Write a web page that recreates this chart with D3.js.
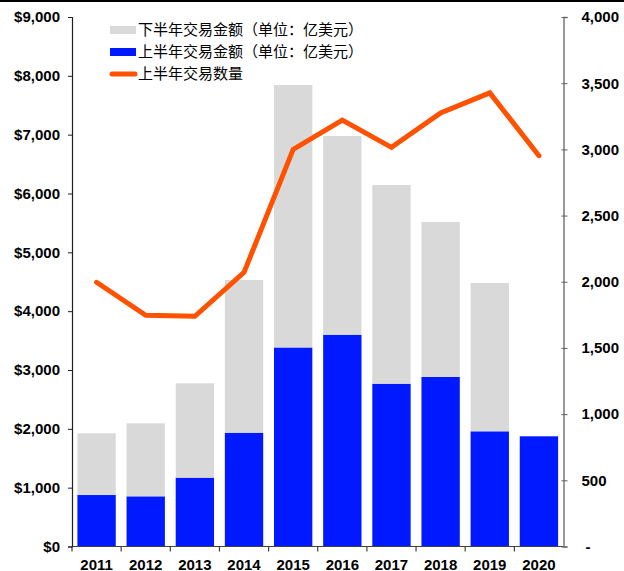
<!DOCTYPE html>
<html>
<head>
<meta charset="utf-8">
<script src="https://cdn.jsdelivr.net/npm/d3@7"></script>
<style>
  body { margin: 0; background: #fff; }
  svg { display: block; }
  .tick text { font-family: "Liberation Sans", Arial, sans-serif; font-weight: bold; font-size: 15px; fill: #000; }
  .legend text { font-family: "Noto Sans CJK SC", sans-serif; font-size: 15px; fill: #000; }
</style>
</head>
<body>
<svg width="624" height="571"></svg>
<script>
// data
var years = ["2011", "2012", "2013", "2014", "2015", "2016", "2017", "2018", "2019", "2020"];
var firstHalf = [875, 853, 1170, 1934, 3383, 3600, 2767, 2881, 1958, 1873];      // 上半年交易金额
var secondHalf = [1049, 1241, 1604, 2596, 4462, 3378, 3378, 2635, 2521, 0];     // 下半年交易金额
var dealCount = [1996, 1746, 1739, 2071, 3000, 3221, 3015, 3276, 3427, 2952];   // 上半年交易数量
var leftTicks = [0, 1000, 2000, 3000, 4000, 5000, 6000, 7000, 8000, 9000];
var rightTicks = [0, 500, 1000, 1500, 2000, 2500, 3000, 3500, 4000];

var legendItems = [
  {label: "下半年交易金额（单位：亿美元）", kind: "rect", color: "#d9d9d9"},
  {label: "上半年交易金额（单位：亿美元）", kind: "rect", color: "#0019ff"},
  {label: "上半年交易数量", kind: "line", color: "#ff5200"}
];

var svg = d3.select("svg"),
  margin = {top: 17, right: 60.5, bottom: 24.5, left: 72},
  width = +svg.attr("width") - margin.left - margin.right,
  height = +svg.attr("height") - margin.top - margin.bottom;

// thin black strip along the top edge
svg.append("rect").attr("x", 0).attr("y", 0).attr("width", 624).attr("height", 2).attr("fill", "#000");

var g = svg.append("g").attr("transform", "translate(" + margin.left + "," + margin.top + ")");

var x = d3.scaleBand()
  .domain(years)
  .range([0, width])
  .paddingInner(0.22)
  .paddingOuter(0.11);

var y = d3.scaleLinear().domain([0, 9000]).range([height, 0]);
var y2 = d3.scaleLinear().domain([0, 4000]).range([height, 0]);

var rows = years.map(function(yr, i) {
  return {year: yr, first: firstHalf[i], second: secondHalf[i], count: dealCount[i]};
});

var stack = d3.stack().keys(["first", "second"])(rows);
var fills = {first: "#0019ff", second: "#d9d9d9"};

g.append("g")
  .selectAll("g")
  .data(stack)
  .enter().append("g")
    .attr("fill", function(d) { return fills[d.key]; })
  .selectAll("rect")
  .data(function(d) { return d.filter(function(p) { return p[1] > p[0]; }); })
  .enter().append("rect")
    .attr("x", function(d) { return x(d.data.year); })
    .attr("y", function(d) { return y(d[1]); })
    .attr("height", function(d) { return y(d[0]) - y(d[1]); })
    .attr("width", x.bandwidth());

// x axis: ticks sit on the band boundaries
var step = x.step();
var xAxis = g.append("g").attr("transform", "translate(0," + height + ")");
xAxis.append("line")
  .attr("x1", 0).attr("x2", width)
  .attr("stroke", "#404040").attr("stroke-width", 1.2);
xAxis.selectAll(".bound")
  .data(years)
  .enter().append("line")
    .attr("x1", function(d) { return x(d) - step * x.paddingInner() / 2; })
    .attr("x2", function(d) { return x(d) - step * x.paddingInner() / 2; })
    .attr("y1", 0).attr("y2", 5)
    .attr("stroke", "#404040").attr("stroke-width", 1.2);
xAxis.selectAll(".tick")
  .data(years)
  .enter().append("g").attr("class", "tick")
  .append("text")
    .attr("x", function(d) { return x(d) + x.bandwidth() / 2; })
    .attr("y", 23)
    .attr("text-anchor", "middle")
    .text(function(d) { return d; });

var yAxis = g.append("g")
  .call(d3.axisLeft(y).tickValues(leftTicks).tickSize(4).tickPadding(8)
    .tickFormat(function(d) { return "$" + d3.format(",")(d); }));
yAxis.select(".domain").attr("stroke", "#202020").attr("stroke-width", 1.2);
yAxis.selectAll(".tick line").attr("stroke", "#202020");

var y2Axis = g.append("g")
  .attr("transform", "translate(" + width + ",0)")
  .call(d3.axisRight(y2).tickValues(rightTicks).tickSize(4).tickPadding(14)
    .tickFormat(function(d) { return d === 0 ? "-" : d3.format(",")(d); }));
y2Axis.select(".domain").attr("stroke", "#808080").attr("stroke-width", 1.6);
y2Axis.selectAll(".tick line").attr("stroke", "#606060").attr("x1", -2);
y2Axis.selectAll(".tick text").filter(function(d) { return d === 0; }).attr("dx", 4);

// deal-count line
var line = d3.line()
  .x(function(d) { return x(d.year) + x.bandwidth() / 2; })
  .y(function(d) { return y2(d.count); });

g.append("path")
  .datum(rows)
  .attr("fill", "none")
  .attr("stroke", "#ff5200")
  .attr("stroke-width", 5)
  .attr("stroke-linecap", "round")
  .attr("stroke-linejoin", "miter")
  .attr("d", line);

// legend
var legend = svg.append("g").attr("class", "legend").attr("transform", "translate(110,30)");
var item = legend.selectAll("g")
  .data(legendItems)
  .enter().append("g")
    .attr("transform", function(d, i) { return "translate(0," + [0, 22, 44][i] + ")"; });

item.filter(function(d) { return d.kind === "rect"; })
  .append("rect")
    .attr("x", 0).attr("y", -4).attr("width", 26).attr("height", 8)
    .attr("fill", function(d) { return d.color; });
item.filter(function(d) { return d.kind === "line"; })
  .append("line")
    .attr("x1", 2).attr("x2", 25).attr("y1", 0).attr("y2", 0)
    .attr("stroke", function(d) { return d.color; })
    .attr("stroke-width", 5).attr("stroke-linecap", "round");
item.append("text")
  .attr("x", 28)
  .attr("dy", "0.35em")
  .text(function(d) { return d.label; });
</script>
</body>
</html>
